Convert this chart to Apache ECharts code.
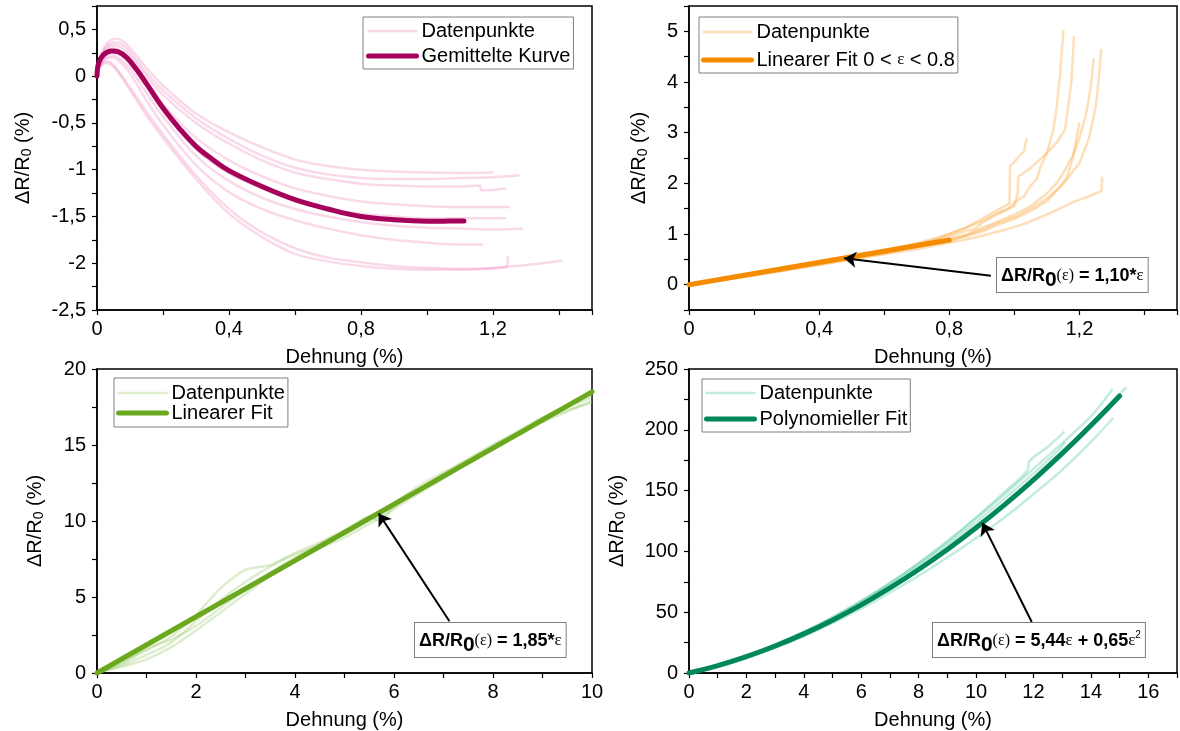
<!DOCTYPE html>
<html>
<head>
<meta charset="utf-8">
<script src="https://cdn.jsdelivr.net/npm/echarts@6/dist/echarts.min.js"></script>
<style>
  html, body { margin: 0; padding: 0; background: #fff; }
  #chart { width: 1180px; height: 731px; }
</style>
</head>
<body>
<div id="chart"></div>
<script>
// values: [Dehnung %, dR/R0 %]

// panel 1 (pink): averaged curve + single runs
const meanCurve = [[0,0],[0.005,0.14],[0.02,0.23],[0.045,0.27],[0.065,0.26],[0.09,0.2],[0.12,0.07],[0.15,-0.08],[0.2,-0.34],[0.25,-0.56],[0.3,-0.75],[0.35,-0.89],[0.4,-1.01],[0.5,-1.18],[0.6,-1.32],[0.7,-1.42],[0.8,-1.5],[0.9,-1.535],[1.0,-1.55],[1.05,-1.55],[1.112,-1.549]];
const pinkRuns = [
  [[0,0],[0.01,0.2],[0.03,0.35],[0.06,0.4],[0.08,0.37],[0.1,0.3],[0.15,0.09],[0.2,-0.1],[0.3,-0.4],[0.4,-0.6],[0.5,-0.76],[0.61,-0.9],[0.7,-0.96],[0.8,-1.0],[0.9,-1.02],[1.0,-1.03],[1.1,-1.035],[1.2,-1.03]],
  [[0,0],[0.01,0.19],[0.03,0.32],[0.06,0.36],[0.08,0.33],[0.1,0.26],[0.15,0.04],[0.2,-0.15],[0.3,-0.45],[0.4,-0.67],[0.5,-0.85],[0.6,-0.98],[0.7,-1.05],[0.8,-1.09],[0.9,-1.1],[1.0,-1.1],[1.1,-1.09],[1.2,-1.08],[1.28,-1.06]],
  [[0,0],[0.01,0.18],[0.03,0.3],[0.055,0.33],[0.08,0.29],[0.1,0.22],[0.15,0.0],[0.2,-0.2],[0.3,-0.5],[0.4,-0.72],[0.5,-0.9],[0.6,-1.03],[0.7,-1.1],[0.8,-1.15],[0.9,-1.17],[1.0,-1.18],[1.1,-1.18],[1.16,-1.17],[1.165,-1.22],[1.24,-1.2]],
  [[0,0],[0.01,0.16],[0.03,0.27],[0.05,0.3],[0.07,0.27],[0.1,0.18],[0.15,-0.06],[0.2,-0.3],[0.3,-0.66],[0.4,-0.9],[0.5,-1.07],[0.6,-1.2],[0.7,-1.28],[0.8,-1.34],[0.9,-1.37],[1.0,-1.39],[1.1,-1.4],[1.25,-1.4]],
  [[0,0],[0.01,0.15],[0.03,0.24],[0.05,0.26],[0.07,0.23],[0.1,0.13],[0.15,-0.12],[0.2,-0.37],[0.3,-0.78],[0.4,-1.04],[0.5,-1.2],[0.6,-1.34],[0.7,-1.42],[0.8,-1.47],[0.9,-1.5],[1.0,-1.52],[1.1,-1.52],[1.24,-1.52]],
  [[0,0],[0.01,0.13],[0.03,0.21],[0.05,0.22],[0.07,0.18],[0.1,0.08],[0.15,-0.18],[0.2,-0.43],[0.3,-0.85],[0.4,-1.12],[0.5,-1.3],[0.6,-1.42],[0.7,-1.5],[0.8,-1.56],[0.9,-1.6],[1.0,-1.62],[1.1,-1.63],[1.2,-1.64],[1.29,-1.63]],
  [[0,0],[0.01,0.12],[0.03,0.19],[0.05,0.2],[0.07,0.15],[0.1,0.03],[0.15,-0.26],[0.2,-0.52],[0.3,-0.95],[0.4,-1.24],[0.5,-1.42],[0.6,-1.54],[0.7,-1.63],[0.8,-1.7],[0.9,-1.75],[1.0,-1.78],[1.1,-1.8],[1.17,-1.8]],
  [[0,0],[0.01,0.11],[0.025,0.16],[0.04,0.15],[0.06,0.08],[0.1,-0.12],[0.15,-0.38],[0.2,-0.62],[0.3,-1.06],[0.4,-1.42],[0.5,-1.67],[0.6,-1.84],[0.7,-1.94],[0.8,-1.99],[0.9,-2.03],[1.0,-2.05],[1.1,-2.06],[1.24,-2.04],[1.245,-1.92]],
  [[0,0],[0.01,0.1],[0.025,0.14],[0.04,0.13],[0.06,0.06],[0.1,-0.15],[0.15,-0.42],[0.2,-0.66],[0.3,-1.1],[0.4,-1.47],[0.5,-1.72],[0.6,-1.9],[0.7,-1.98],[0.8,-2.03],[0.9,-2.06],[1.0,-2.07],[1.1,-2.07],[1.2,-2.05],[1.3,-2.02],[1.41,-1.97]]
];

// panel 2 (orange)
const orangeFit = [[0,0],[0.8,0.88]];
const orangeRuns = [
  [[0,0],[0.1,0.09],[0.2,0.2],[0.3,0.31],[0.4,0.42],[0.5,0.53],[0.6,0.65],[0.7,0.79],[0.75,0.86],[0.8,0.95],[0.85,1.06],[0.88,1.1],[0.9,1.22],[0.95,1.4],[0.98,1.48],[1.0,1.62],[1.03,1.75],[1.05,1.95],[1.07,2.1],[1.08,2.32],[1.1,2.6],[1.12,3.06],[1.13,3.5],[1.14,4.1],[1.146,4.6],[1.151,5.03]],
  [[0,0],[0.1,0.1],[0.2,0.21],[0.3,0.32],[0.4,0.43],[0.5,0.55],[0.6,0.68],[0.7,0.82],[0.75,0.9],[0.8,1.0],[0.85,1.12],[0.9,1.25],[0.95,1.42],[1.0,1.55],[1.01,1.8],[1.012,2.13],[1.05,2.3],[1.1,2.6],[1.13,2.8],[1.156,3.06],[1.165,3.5],[1.175,4.0],[1.18,4.5],[1.183,4.9]],
  [[0,0],[0.2,0.19],[0.4,0.41],[0.5,0.52],[0.6,0.63],[0.7,0.76],[0.8,0.9],[0.85,0.98],[0.9,1.12],[0.95,1.25],[1.0,1.38],[1.05,1.55],[1.1,1.8],[1.13,2.0],[1.15,2.2],[1.18,2.55],[1.2,2.9],[1.22,3.35],[1.235,3.9],[1.244,4.47]],
  [[0,0],[0.2,0.2],[0.4,0.41],[0.6,0.63],[0.7,0.75],[0.8,0.88],[0.85,0.96],[0.9,1.08],[0.95,1.22],[1.0,1.33],[1.05,1.5],[1.1,1.7],[1.15,1.98],[1.2,2.4],[1.23,2.9],[1.25,3.5],[1.26,4.1],[1.267,4.65]],
  [[0,0],[0.2,0.2],[0.4,0.42],[0.6,0.66],[0.7,0.8],[0.75,0.88],[0.8,1.0],[0.85,1.12],[0.9,1.3],[0.95,1.48],[0.985,1.6],[0.987,2.35],[1.0,2.42],[1.02,2.58],[1.03,2.62],[1.035,2.82],[1.04,2.89]],
  [[0,0],[0.2,0.19],[0.4,0.4],[0.6,0.62],[0.7,0.74],[0.8,0.86],[0.9,1.05],[0.95,1.18],[1.0,1.3],[1.05,1.45],[1.1,1.65],[1.13,1.85],[1.16,2.1],[1.18,2.5],[1.2,3.2]],
  [[0,0],[0.2,0.18],[0.4,0.39],[0.6,0.6],[0.7,0.7],[0.78,0.8],[0.88,0.93],[0.98,1.1],[1.03,1.2],[1.08,1.33],[1.13,1.47],[1.18,1.63],[1.22,1.72],[1.268,1.85],[1.27,2.13]]
];

// panel 3 (green)
const greenFit = [[0,0],[10,18.5]];
const greenRuns = [
  [[0,0],[0.5,0.7],[1,1.5],[1.5,2.4],[2,3.8],[2.5,5.6],[3,6.8],[3.5,7.1],[4,7.9],[4.5,8.6],[5,9.4],[5.5,10.3],[6,11.2],[6.5,12.3],[7,13.2],[7.5,14.0],[8,15.0],[8.5,15.9],[9,16.8],[9.5,17.5],[10,18.1]],
  [[0,0],[0.5,0.5],[1,1.2],[1.5,2.0],[2,3.4],[2.5,4.8],[3,6.0],[3.5,7.0],[4,7.8],[4.5,8.4],[5,9.1],[5.5,10.0],[6,11.0],[6.5,12.0],[7,13.0],[7.5,13.9],[8,14.8],[8.5,15.7],[9,16.6],[9.5,17.3],[10,17.8]],
  [[0,0],[0.5,0.4],[1,0.9],[1.5,1.7],[2,2.8],[2.5,4.0],[3,5.2],[3.5,6.4],[4,7.4],[4.5,8.2],[5,8.9],[5.5,9.8],[6,10.8],[6.5,11.8],[7,12.8],[7.5,13.8],[8,14.7],[8.5,15.6],[9,16.5],[9.5,17.2],[10,17.9]],
  [[0,0],[0.5,0.6],[1,1.6],[1.5,2.2],[2,3.1],[2.5,4.3],[3,5.5],[3.5,6.6],[4,7.6],[4.5,8.5],[5,9.3],[5.5,10.3],[5.7,10.0],[6,10.9],[6.5,12.1],[7,13.1],[7.5,14.1],[8,15.0],[8.5,15.8],[9,16.8],[9.5,17.6],[10,18.3]]
];

// panel 4 (teal)
const tealFit = [[0,0],[1,6.09],[2,13.48],[3,22.17],[4,32.16],[5,43.45],[6,56.04],[7,69.93],[8,85.12],[9,101.61],[10,119.4],[11,138.49],[12,158.88],[13,180.57],[14,203.56],[15,227.85]];
const tealRuns = [
  [[0,0],[1,6.5],[2,14.3],[3,23.5],[4,34],[5,46],[6,59.5],[7,74],[8,90],[9,107.5],[10,127],[11,147],[12,168],[13,189],[14,211],[14.76,233.5]],
  [[0,0],[1,5.8],[2,13],[3,21.5],[4,31.5],[5,42.8],[6,55.5],[7,69.5],[8,84.8],[9,101.5],[10,119.5],[11,138.8],[12,159.5],[13,181.5],[14,205],[15,229.5],[15.24,235]],
  [[0,0],[1,5.6],[2,12.6],[3,20.8],[4,30.2],[5,41],[6,53],[7,66],[8,80],[9,95],[10,111],[11,128],[12,147],[13,167],[14,190],[14.78,209.7]],
  [[0,0],[1,6.3],[2,14],[3,23],[4,33.5],[5,45.5],[6,59],[7,74],[8,90.5],[9,108.5],[10,128],[11,149],[11.8,167],[11.85,174],[12.5,186],[13.09,198.7]],
  [[0,0],[1,6.2],[2,13.8],[3,22.8],[4,33],[5,44.8],[6,58],[7,72.5],[8,88.5],[9,105.5],[10,124],[11,143.5],[12,164],[12.9,184],[13.1,190]]
];

// axis ranges: [min, max, tick step, label step]
const x1Range = [0, 1.5, 0.2, 0.4];
const y1Range = [-2.5, 0.75, 0.25, 0.5];
const x2Range = [0, 1.5, 0.2, 0.4];
const y2Range = [-0.5, 5.5, 0.5, 1];
const x3Range = [0, 10, 1, 2];
const y3Range = [0, 20, 2.5, 5];
const x4Range = [0, 17, 1, 2];
const y4Range = [0, 250, 25, 50];

const FONT = 'Liberation Sans';
const SERIF = 'Liberation Serif';

function labelFmt(step) {
  return function (v) {
    let k = v / step;
    if (Math.abs(k - Math.round(k)) > 1e-6) return '';
    return String(+v.toFixed(2)).replace('.', ',');
  };
}

function xAxisOf(gi, r) {
  return {
    type: 'value', gridIndex: gi, min: r[0], max: r[1], interval: r[2],
    name: 'Dehnung (%)', nameLocation: 'middle', nameGap: 37,
    nameTextStyle: { fontFamily: FONT, fontSize: 20, color: '#000' },
    axisLine: { onZero: false, lineStyle: { color: '#000', width: 1.5 } },
    axisTick: { show: true, length: 5, lineStyle: { color: '#000', width: 1.2 } },
    axisLabel: { formatter: labelFmt(r[3]), fontFamily: FONT, fontSize: 20, color: '#000', margin: 9 },
    splitLine: { show: false }
  };
}

function yAxisOf(gi, r, gap) {
  return {
    type: 'value', gridIndex: gi, min: r[0], max: r[1], interval: r[2],
    name: '{a|ΔR/R}{s|0}{a| (%)}', nameLocation: 'middle', nameGap: gap, nameRotate: 90,
    nameTextStyle: {
      fontFamily: FONT, fontSize: 20, color: '#000',
      rich: {
        a: { fontFamily: FONT, fontSize: 20, color: '#000', lineHeight: 24 },
        s: { fontFamily: FONT, fontSize: 14, color: '#000', lineHeight: 16, padding: [8, 0, 0, 0] }
      }
    },
    axisLine: { onZero: false, lineStyle: { color: '#000', width: 1.5 } },
    axisTick: { show: true, length: 5, lineStyle: { color: '#000', width: 1.2 } },
    axisLabel: { formatter: labelFmt(r[3]), fontFamily: FONT, fontSize: 20, color: '#000', margin: 11 },
    splitLine: { show: false }
  };
}

function runSeries(gi, name, runs, color, smooth) {
  return runs.map(function (d) {
    return {
      type: 'line', name: name, xAxisIndex: gi, yAxisIndex: gi, data: d,
      symbol: 'none', smooth: smooth, silent: true, z: 2,
      lineStyle: { color: color, width: 2.5 }, itemStyle: { color: color }
    };
  });
}

function fitSeries(gi, name, data, color, smooth, arrow) {
  let s = {
    type: 'line', name: name, xAxisIndex: gi, yAxisIndex: gi, data: data,
    symbol: 'none', smooth: smooth, silent: true, z: 3,
    lineStyle: { color: color, width: 5, cap: 'round' }, itemStyle: { color: color }
  };
  if (arrow) {
    s.markLine = {
      silent: true, symbol: ['none', 'arrow'], symbolSize: 12,
      lineStyle: { color: '#000', width: 2, type: 'solid', opacity: 1 },
      itemStyle: { color: '#000' },
      label: { show: false },
      emphasis: { disabled: true },
      data: [[{ coord: arrow[0] }, { coord: arrow[1] }]]
    };
  }
  return s;
}

function legendOf(left, top, names, gap, pad) {
  return {
    orient: 'vertical', left: left, top: top, data: names,
    itemWidth: 48, itemHeight: 14, itemGap: gap, padding: pad,
    borderColor: '#808080', borderWidth: 1, backgroundColor: '#fff',
    selectedMode: false,
    itemStyle: { opacity: 0, borderWidth: 0 },
    lineStyle: { width: 'inherit', cap: 'round' },
    formatter: function (n) {
      n = n.split('#')[0];
      if (n.indexOf('ε') >= 0) return '{t|Linearer Fit 0 < }{e|ε}{t| < 0.8}';
      return '{t|' + n + '}';
    },
    textStyle: {
      fontFamily: FONT, fontSize: 20, color: '#000', lineHeight: 20,
      rich: {
        t: { fontFamily: FONT, fontSize: 20, color: '#000', lineHeight: 20 },
        e: { fontFamily: SERIF, fontSize: 17, color: '#000', lineHeight: 20 }
      }
    }
  };
}

const eqRich = {
  b: { fontFamily: FONT, fontWeight: 'bold', fontSize: 18, color: '#000', lineHeight: 24 },
  z: { fontFamily: FONT, fontWeight: 'bold', fontSize: 21, color: '#000', lineHeight: 24, padding: [8, 0, 0, 0] },
  n: { fontFamily: SERIF, fontSize: 16, color: '#000', lineHeight: 24 },
  e: { fontFamily: SERIF, fontSize: 17, color: '#000', lineHeight: 24 },
  p: { fontFamily: FONT, fontSize: 10, color: '#000', lineHeight: 12, padding: [0, 0, 12, 0] }
};

function eqBox(left, top, text) {
  return {
    type: 'text', left: left, top: top, z: 100, silent: true,
    style: {
      text: text, rich: eqRich, backgroundColor: '#fff',
      borderColor: '#808080', borderWidth: 1, padding: [6, 4, 4, 4]
    }
  };
}

let myChart = echarts.init(document.getElementById('chart'), null, { renderer: 'canvas' });

let series = [];
series = series.concat(runSeries(0, 'Datenpunkte#1', pinkRuns, 'rgba(235,130,185,0.3)', 0.4));
series.push(fitSeries(0, 'Gemittelte Kurve', meanCurve, '#a5005a', 0.4, null));
series = series.concat(runSeries(1, 'Datenpunkte#2', orangeRuns, 'rgba(250,175,80,0.4)', false));
series.push(fitSeries(1, 'Linearer Fit 0 < ε < 0.8', orangeFit, '#f58c00', false, [[0.928, 0.174], [0.477, 0.52]]));
series = series.concat(runSeries(2, 'Datenpunkte#3', greenRuns, 'rgba(150,200,100,0.32)', 0.2));
series.push(fitSeries(2, 'Linearer Fit', greenFit, '#6aa81e', false, [[7.12, 3.4], [5.69, 10.5]]));
series = series.concat(runSeries(3, 'Datenpunkte#4', tealRuns, 'rgba(80,200,160,0.35)', 0.3));
series.push(fitSeries(3, 'Polynomieller Fit', tealFit, '#00875a', 0.4, [[11.94, 41.9], [10.22, 123.5]]));

let option = {
  animation: false,
  backgroundColor: '#fff',
  grid: [
    { left: 97, top: 6, width: 495, height: 304, show: true, borderColor: '#000', borderWidth: 1.5 },
    { left: 689, top: 6, width: 497, height: 304, show: true, borderColor: '#000', borderWidth: 1.5 },
    { left: 97, top: 369, width: 495, height: 304, show: true, borderColor: '#000', borderWidth: 1.5 },
    { left: 689, top: 369, width: 497, height: 304, show: true, borderColor: '#000', borderWidth: 1.5 }
  ],
  xAxis: [xAxisOf(0, x1Range), xAxisOf(1, x2Range), xAxisOf(2, x3Range), xAxisOf(3, x4Range)],
  yAxis: [yAxisOf(0, y1Range, 62), yAxisOf(1, y2Range, 38), yAxisOf(2, y3Range, 50), yAxisOf(3, y4Range, 60)],
  legend: [
    legendOf(363, 17, ['Datenpunkte#1', 'Gemittelte Kurve'], 5, [4, 3, 3, 3]),
    legendOf(699, 17, ['Datenpunkte#2', 'Linearer Fit 0 < ε < 0.8'], 8, [5, 3, 3, 2]),
    legendOf(114, 378, ['Datenpunkte#3', 'Linearer Fit'], 0, [5, 3, 4, 2]),
    legendOf(702, 379, ['Datenpunkte#4', 'Polynomieller Fit'], 6, [4, 3, 3, 2])
  ],
  graphic: [
    eqBox(996, 257, '{b|ΔR/R}{z|0}{n|(ε)}{b| = 1,10*}{e|ε}'),
    eqBox(414, 622, '{b|ΔR/R}{z|0}{n|(ε)}{b| = 1,85*}{e|ε}'),
    eqBox(932, 622, '{b|ΔR/R}{z|0}{n|(ε)}{b| = 5,44}{e|ε}{b| + 0,65}{e|ε}{p|2}')
  ],
  series: series
};

myChart.setOption(option, true);
window.addEventListener('resize', myChart.resize);
</script>
</body>
</html>
